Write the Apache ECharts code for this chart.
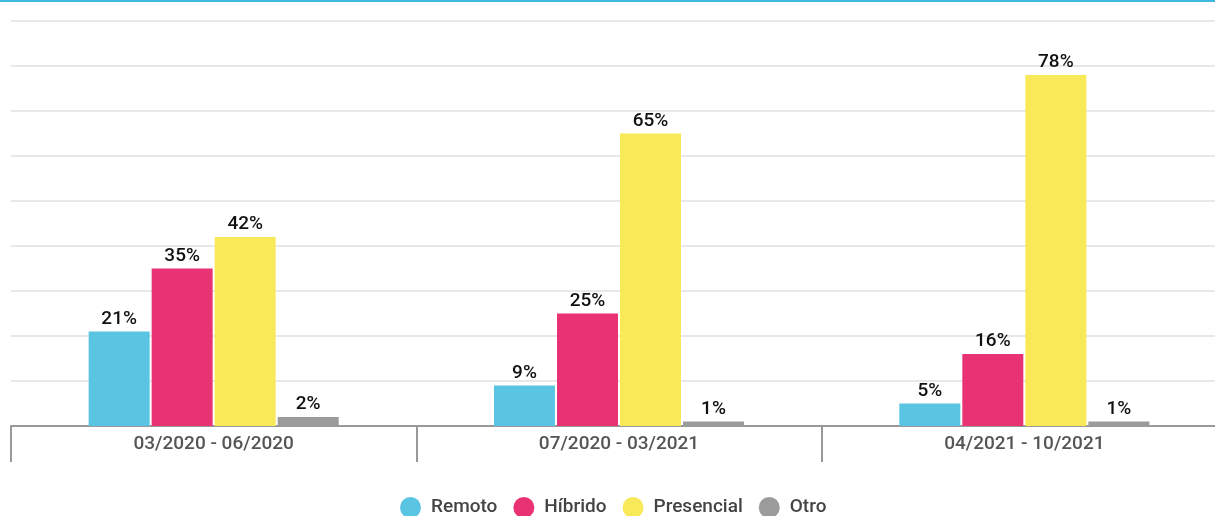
<!DOCTYPE html>
<html><head><meta charset="utf-8">
<script src="https://cdn.jsdelivr.net/npm/echarts@6/dist/echarts.min.js"></script>
<style>html,body{margin:0;padding:0;background:#fff;overflow:hidden}#c{width:1240px;height:516px}</style>
</head><body><div id="c"></div>
<script>
const categories = ['03/2020 - 06/2020', '07/2020 - 03/2021', '04/2021 - 10/2021'];
const seriesNames = ['Remoto', 'Híbrido', 'Presencial', 'Otro'];
const remoto = [21, 9, 5];
const hibrido = [35, 25, 16];
const presencial = [42, 65, 78];
const otro = [2, 1, 1];
const colors = ['#5ac4e3', '#e83273', '#f8e958', '#9b9b9b'];
const allValues = [remoto, hibrido, presencial, otro];

const chart = echarts.init(document.getElementById('c'));
const font = 'Roboto, sans-serif';
chart.setOption({
  animation: false,
  color: colors,
  graphic: [{type: 'rect', left: 0, top: 0, shape: {width: 1240, height: 2}, style: {fill: '#3dbadd'}}],
  grid: {left: 11, width: 1216, top: 21, height: 405, containLabel: false},
  legend: {
    left: 395, top: 492, icon: 'circle', itemWidth: 21, itemHeight: 21, itemGap: 16,
    textStyle: {fontFamily: font, fontSize: 19, color: '#444', fontWeight: 500, padding: [0, 0, 0, 5]},
    data: seriesNames
  },
  xAxis: {
    type: 'category', data: categories,
    axisLine: {lineStyle: {color: '#999', width: 2}},
    axisTick: {show: true, length: 36, lineStyle: {color: '#999', width: 2}},
    axisLabel: {fontFamily: font, fontSize: 19, color: '#555', fontWeight: 500, margin: 9}
  },
  yAxis: {
    type: 'value', min: 0, max: 90, interval: 10,
    axisLabel: {show: false}, axisLine: {show: false}, axisTick: {show: false},
    splitLine: {lineStyle: {color: '#e8e8e8', width: 2}}
  },
  series: seriesNames.map((n, i) => ({
    name: n, type: 'bar', data: allValues[i], barWidth: 61, barGap: '3.3%',
    label: {show: true, position: 'top', distance: 3, formatter: '{c}%', fontFamily: font, fontSize: 19, fontWeight: 500, color: '#111'}
  }))
});
</script></body></html>
